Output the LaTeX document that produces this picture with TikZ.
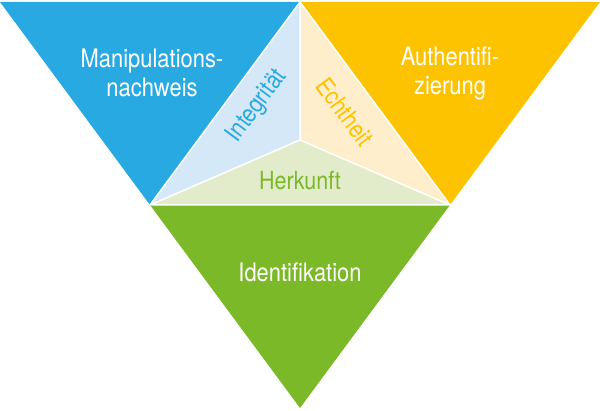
\documentclass[tikz,border=0pt]{standalone}
\usepackage{fontspec}
\setmainfont{TeX Gyre Heros}[FakeStretch=0.86]
\definecolor{cblue}{HTML}{29A9E1}
\definecolor{corange}{HTML}{FDC300}
\definecolor{cgreen}{HTML}{7BB928}
\definecolor{lblue}{HTML}{D5E8F7}
\definecolor{lorange}{HTML}{FEEECB}
\definecolor{lgreen}{HTML}{E2ECCB}
\begin{document}
\begin{tikzpicture}[x=1pt,y=-1pt,
  big/.style={text=white,font=\fontsize{25.5}{29}\selectfont,align=center},
  small/.style={font=\fontsize{25}{27}\selectfont,inner sep=0pt}]
\useasboundingbox (0,0) rectangle (600,411);
\coordinate (tl) at (0,2); \coordinate (tm) at (300,2); \coordinate (tr) at (600,2);
\coordinate (ml) at (150,205); \coordinate (mr) at (450,205); \coordinate (b) at (300,408);
\coordinate (c) at (300,140);
\fill[cblue] (tl) -- (tm) -- (ml) -- cycle;
\fill[corange] (tm) -- (tr) -- (mr) -- cycle;
\fill[cgreen] (ml) -- (mr) -- (b) -- cycle;
\fill[lblue] (ml) -- (tm) -- (c) -- cycle;
\fill[lorange] (tm) -- (mr) -- (c) -- cycle;
\fill[lgreen] (ml) -- (mr) -- (c) -- cycle;
\draw[white,line width=1.5pt] (ml) -- (tm) -- (mr) -- cycle (c) -- (ml) (c) -- (tm) (c) -- (mr);
\node[big] (n1) at (152,73) {Manipulations-\\nachweis};
\node[big] (n2) at (450,73) {Authentifi-\\zierung};
\node[big] (n3) at (300,272) {Identifikation};
\node[small,text=cblue,rotate=53.5] (n4) at (257,106) {Integrität};
\node[small,text=corange,rotate=-53.5] (n5) at (345,112) {Echtheit};
\node[small,text=cgreen] (n6) at (300,181) {Herkunft};
\end{tikzpicture}
\end{document}
